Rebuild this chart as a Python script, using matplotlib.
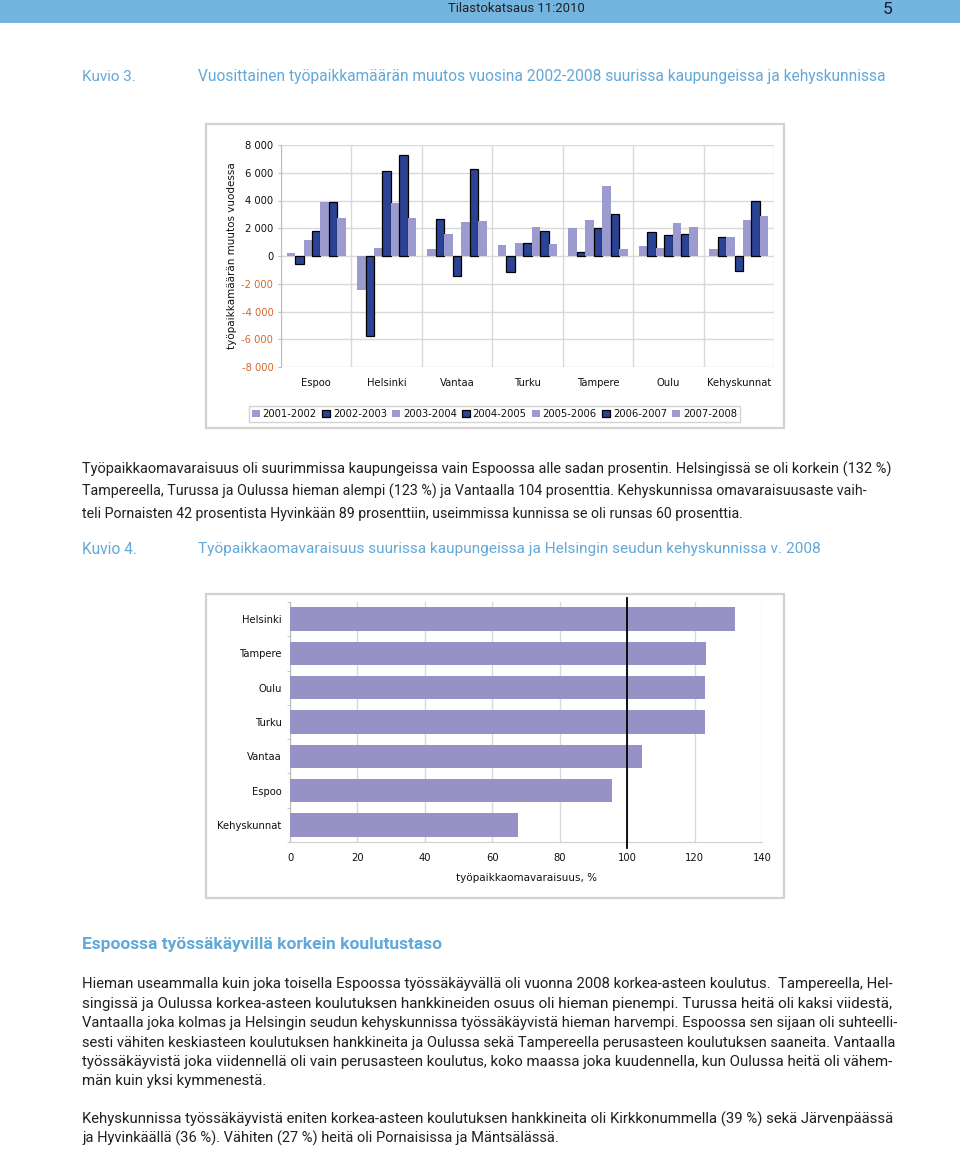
import matplotlib
matplotlib.use('Agg')
import matplotlib.pyplot as plt
from matplotlib import font_manager as fm
from matplotlib.patches import Rectangle, Patch

# ---------------- data ----------------
cats1 = ['Espoo', 'Helsinki', 'Vantaa', 'Turku', 'Tampere', 'Oulu', 'Kehyskunnat']
periods = ['2001-2002', '2002-2003', '2003-2004', '2004-2005', '2005-2006', '2006-2007', '2007-2008']
v_2001_2002 = [200, -2450, 480, 780, 2000, 730, 480]
v_2002_2003 = [-550, -5800, 2700, -1160, 290, 1720, 1360]
v_2003_2004 = [1160, 580, 1620, 920, 2600, 600, 1400]
v_2004_2005 = [1800, 6100, -1430, 950, 2010, 1500, -1090]
v_2005_2006 = [3900, 3850, 2420, 2100, 5020, 2400, 2600]
v_2006_2007 = [3900, 7270, 6250, 1770, 3050, 1620, 3930]
v_2007_2008 = [2740, 2740, 2550, 850, 530, 2100, 2880]
series1 = [v_2001_2002, v_2002_2003, v_2003_2004, v_2004_2005, v_2005_2006, v_2006_2007, v_2007_2008]
yticks1 = [-8000, -6000, -4000, -2000, 0, 2000, 4000, 6000, 8000]

cats2 = ['Helsinki', 'Tampere', 'Oulu', 'Turku', 'Vantaa', 'Espoo', 'Kehyskunnat']
omavaraisuus = [132, 123.5, 123, 123, 104.5, 95.5, 67.5]
xticks2 = [0, 20, 40, 60, 80, 100, 120, 140]

# ---------------- setup ----------------
W, H = 960, 1149
fig = plt.figure(figsize=(W / 100, H / 100), dpi=100)
fig.patch.set_facecolor('white')
R = fig.canvas.get_renderer()

names = {f.name for f in fm.fontManager.ttflist}
BODY = next(n for n in ['Liberation Sans Narrow', 'Roboto', 'Lato', 'DejaVu Sans'] if n in names or n == 'DejaVu Sans')
CH = 'DejaVu Sans'

TXT = '#231f20'
BLUE = '#62a8d8'
LIGHT = '#9b9bd0'
DARK = '#2c4393'
CHTXT = '#111111'


def fx(x):
    return x / W


def fy(y):
    return 1 - y / H


def width(t):
    return t.get_window_extent(renderer=R).width


def fit_text(x0, x1, y, s, size0=10, **kw):
    t = fig.text(fx(x0), fy(y), s, fontsize=size0, va='center', ha='left', **kw)
    t.set_fontsize(size0 * (x1 - x0) / width(t))
    return t


def fit_line(x0, x1, y, s, base, tol=0.06, **kw):
    t = fig.text(fx(x0), fy(y), s, fontsize=base, va='baseline', ha='left', **kw)
    size = base * (x1 - x0) / width(t)
    size = min(max(size, base * (1 - tol)), base * (1 + tol))
    t.set_fontsize(size)
    return t


# ---------------- header ----------------
fig.patches.append(Rectangle((0, fy(23)), 1, 23 / H, transform=fig.transFigure,
                             facecolor='#73b5df', edgecolor='none'))
fit_text(448, 584, 8, 'Tilastokatsaus 11:2010', family=BODY, color=TXT)
fig.text(fx(888), fy(10), '5', fontsize=12.5, family=BODY, color='#1a1a3a', ha='center', va='center')

# ---------------- titles ----------------
fit_text(82, 136, 77, 'Kuvio 3.', family=BODY, color=BLUE)
fit_text(198, 886, 77, 'Vuosittainen työpaikkamäärän muutos vuosina 2002-2008 suurissa kaupungeissa ja kehyskunnissa',
         family=BODY, color=BLUE)
fit_text(82, 137, 549, 'Kuvio 4.', family=BODY, color=BLUE)
fit_text(198, 825, 549, 'Työpaikkaomavaraisuus suurissa kaupungeissa ja Helsingin seudun kehyskunnissa v. 2008',
         family=BODY, color=BLUE)
fit_text(82, 442, 944, 'Espoossa työssäkäyvillä korkein koulutustaso', family=BODY, color=BLUE, weight='bold')

# ---------------- body text ----------------
p1 = [
    ('Työpaikkaomavaraisuus oli suurimmissa kaupungeissa vain Espoossa alle sadan prosentin. Helsingissä se oli korkein (132 %)', 898, 469),
    ('Tampereella, Turussa ja Oulussa hieman alempi (123 %) ja Vantaalla 104 prosenttia. Kehyskunnissa omavaraisuusaste vaih-', 868, 491),
    ('teli Pornaisten 42 prosentista Hyvinkään 89 prosenttiin, useimmissa kunnissa se oli runsas 60 prosenttia.', 745, 513),
]
p2 = [
    ('Hieman useammalla kuin joka toisella Espoossa työssäkäyvällä oli vuonna 2008 korkea-asteen koulutus.  Tampereella, Hel-', 900, 983),
    ('singissä ja Oulussa korkea-asteen koulutuksen hankkineiden osuus oli hieman pienempi. Turussa heitä oli kaksi viidestä,', 900, 1003),
    ('Vantaalla joka kolmas ja Helsingin seudun kehyskunnissa työssäkäyvistä hieman harvempi. Espoossa sen sijaan oli suhteelli-', 900, 1022),
    ('sesti vähiten keskiasteen koulutuksen hankkineita ja Oulussa sekä Tampereella perusasteen koulutuksen saaneita. Vantaalla', 900, 1042),
    ('työssäkäyvistä joka viidennellä oli vain perusasteen koulutus, koko maassa joka kuudennella, kun Oulussa heitä oli vähem-', 900, 1061),
    ('män kuin yksi kymmenestä.', 267, 1080),
    ('Kehyskunnissa työssäkäyvistä eniten korkea-asteen koulutuksen hankkineita oli Kirkkonummella (39 %) sekä Järvenpäässä', 900, 1119),
    ('ja Hyvinkäällä (36 %). Vähiten (27 %) heitä oli Pornaisissa ja Mäntsälässä.', 561, 1138),
]
tmp = fig.text(0, 0, p1[0][0], fontsize=10, family=BODY)
body_size = 10 * (898 - 82) / width(tmp)
tmp.remove()
for line, x1, y in p1 + p2:
    fit_line(82, x1, y + 5, line, body_size, family=BODY, color=TXT)

# ---------------- frames ----------------
for (x0, y0, x1, y1) in [(206, 124, 784, 428), (206, 594, 784, 898)]:
    fig.patches.append(Rectangle((fx(x0), fy(y1)), (x1 - x0) / W, (y1 - y0) / H, transform=fig.transFigure,
                                 facecolor='none', edgecolor='#d2d2d2', lw=1.6, zorder=-1))

# ---------------- chart 1 ----------------
ax1 = fig.add_axes([fx(281), fy(367), (774 - 281) / W, (367 - 145) / H])
ax1.patch.set_alpha(0)
n = len(series1)
bw = 0.12
for j, vals in enumerate(series1):
    xs = [i + 0.5 + (j - (n - 1) / 2) * bw for i in range(len(cats1))]
    dark = j % 2 == 1
    ax1.bar(xs, vals, width=bw, color=DARK if dark else LIGHT,
            edgecolor='black' if dark else 'none', lw=0.9 if dark else 0, zorder=3)
ax1.set_xlim(0, 7)
ax1.set_ylim(-8000, 8000)
ax1.set_yticks(yticks1)
ax1.set_yticklabels([f'{v:,}'.replace(',', ' ') for v in yticks1], family=CH, fontsize=7.2)
for lab, v in zip(ax1.get_yticklabels(), yticks1):
    lab.set_color('#d2692e' if v < 0 else CHTXT)
ax1.set_xticks([i + 0.5 for i in range(len(cats1))])
ax1.set_xticklabels(cats1, family=CH, fontsize=7.2, color=CHTXT)
ax1.set_xticks(range(8), minor=True)
ax1.tick_params(axis='x', which='both', length=0, pad=8)
ax1.tick_params(axis='y', length=2.5, color='#bdbdbd', pad=3)
ax1.set_axisbelow(True)
ax1.yaxis.grid(True, color='#d9d9d9', lw=1)
ax1.xaxis.grid(True, which='minor', color='#d9d9d9', lw=1)
ax1.xaxis.grid(False, which='major')
for s in ['top', 'right', 'bottom']:
    ax1.spines[s].set_visible(False)
ax1.spines['left'].set_color('#bdbdbd')
fig.text(fx(232), fy(256), 'työpaikkamäärän muutos vuodessa', rotation=90, family=CH, fontsize=7.5,
         color=CHTXT, ha='center', va='center')
handles = [Patch(facecolor=DARK if j % 2 == 1 else LIGHT, edgecolor='black' if j % 2 == 1 else LIGHT,
                 lw=0.9 if j % 2 == 1 else 0) for j in range(n)]
leg = fig.legend(handles, periods, loc='center', bbox_to_anchor=(fx(494.5), fy(414)), ncol=7,
                 prop={'family': CH, 'size': 7.2}, handlelength=0.8, handleheight=0.8, handletextpad=0.25,
                 columnspacing=0.55, borderpad=0.3, fancybox=False, frameon=True)
leg.get_frame().set_edgecolor('#c8c8c8')
leg.get_frame().set_linewidth(1)
for t in leg.get_texts():
    t.set_color(CHTXT)

# ---------------- chart 2 ----------------
ax2 = fig.add_axes([fx(290), fy(842), (762 - 290) / W, (842 - 602) / H])
ax2.patch.set_alpha(0)
ypos = list(range(len(cats2) - 1, -1, -1))
ax2.barh(ypos, omavaraisuus, height=0.68, color='#9692c6', zorder=3)
ax2.set_xlim(0, 140)
ax2.set_ylim(-0.5, 6.5)
ax2.set_xticks(xticks2)
ax2.set_xticklabels([str(v) for v in xticks2], family=CH, fontsize=7.2, color=CHTXT)
ax2.set_yticks(ypos)
ax2.set_yticklabels(cats2, family=CH, fontsize=7.2, color=CHTXT)
ax2.set_yticks([k - 0.5 for k in range(8)], minor=True)
ax2.tick_params(axis='y', which='major', length=0, pad=6)
ax2.tick_params(axis='y', which='minor', length=2.5, color='#bdbdbd')
ax2.tick_params(axis='x', length=0, pad=8)
ax2.set_axisbelow(True)
ax2.xaxis.grid(True, color='#d9d9d9', lw=1)
for s in ['top', 'right']:
    ax2.spines[s].set_visible(False)
ax2.spines['left'].set_color('#bdbdbd')
ax2.spines['bottom'].set_color('#d0d0d0')
ax2.axvline(100, ymin=-0.025, ymax=1.015, color='black', lw=1.3, clip_on=False, zorder=5)
fig.text(fx(527), fy(878), 'työpaikkaomavaraisuus, %', family=CH, fontsize=7.5, color=CHTXT,
         ha='center', va='center')

fig.savefig('out.png', dpi=100)
